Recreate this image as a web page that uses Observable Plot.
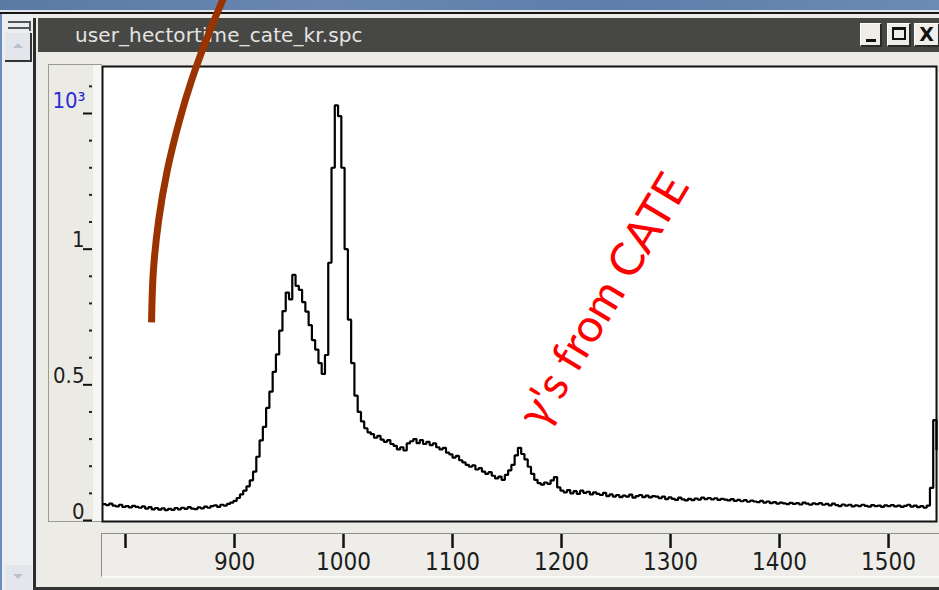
<!DOCTYPE html>
<html>
<head>
<meta charset="utf-8">
<title>user_hectortime_cate_kr.spc</title>
<script src="https://cdn.jsdelivr.net/npm/d3@7"></script>
<script src="https://cdn.jsdelivr.net/npm/@observablehq/plot@0.6"></script>
<style>
  html, body { margin: 0; padding: 0; }
  body {
    width: 939px; height: 590px; overflow: hidden; position: relative;
    background: #ecebe6; font-family: "DejaVu Sans", sans-serif;
  }
  .abs { position: absolute; box-sizing: border-box; }
  #sky { left: 0; top: 0; width: 939px; height: 10px;
    background: linear-gradient(90deg, #5a79a5, #6987b2 35%, #5e7eab 65%, #6b8ab4); }
  #skyline { left: 0; top: 10px; width: 939px; height: 2px; background: #e2e6ec; }
  #edge { left: 0; top: 12px; width: 939px; height: 2px; background: #161616; }
  #strip { left: 0; top: 14px; width: 33px; height: 576px; background: #ebeff2; border-left: 2px solid #6b8cbc; }
  #stripline { left: 33px; top: 18px; width: 3px; height: 572px; background: #2b2b2b; }
  #grip1 { left: 8px; top: 21px; width: 22px; height: 2px; background: #555; }
  #grip2 { left: 8px; top: 27px; width: 22px; height: 2px; background: #555; }
  #grip3 { left: 29px; top: 21px; width: 2px; height: 10px; background: #555; }
  #upbtn { left: 5px; top: 33px; width: 27px; height: 29px; background: #e3e6ea;
    border-right: 2px solid #333; border-bottom: 2px solid #333; }
  #upbtn::after { content: ""; position: absolute; left: 8px; top: 10px;
    border-left: 5px solid transparent; border-right: 5px solid transparent; border-bottom: 5px solid #b7c2cf; }
  #downbtn { left: 5px; top: 565px; width: 27px; height: 25px; background: #e3e6ea; }
  #downbtn::after { content: ""; position: absolute; left: 8px; top: 9px;
    border-left: 5px solid transparent; border-right: 5px solid transparent; border-top: 5px solid #b7c2cf; }
  #titlebar { left: 38px; top: 18px; width: 901px; height: 34px; background: #474745; }
  #title { left: 75px; top: 23px; color: #e4e4e2; font-size: 20px; letter-spacing: 0.1px; white-space: nowrap; }
  .btn { top: 23px; height: 24px; background: #eeede8;
    border-top: 1px solid #fff; border-left: 1px solid #fff;
    border-right: 2px solid #2a2a2a; border-bottom: 2px solid #2a2a2a; }
  #bmin { left: 860px; width: 22px; }
  #bmin::after { content: ""; position: absolute; left: 5px; top: 15px; width: 10px; height: 3px; background: #111; }
  #bmax { left: 887px; width: 24px; }
  #bmax::after { content: ""; position: absolute; left: 4px; top: 3px; width: 14px; height: 13px;
    border: 2px solid #111; border-top-width: 3px; box-sizing: border-box; }
  #bclose { left: 914px; width: 26px; font: bold 19px "DejaVu Sans", sans-serif; color: #111; text-align: center; line-height: 21px; }
  #ypanel { left: 48px; top: 64px; width: 54px; height: 458px; background: #ebeae5;
    border-left: 1px solid #9a9a96; border-top: 1px solid #9a9a96; border-bottom: 1px solid #9a9a96; }
  #ystrip { left: 93px; top: 65px; width: 9px; height: 456px; background: #f6f6f3; }
  #xpanel { left: 101px; top: 533px; width: 838px; height: 45px; background: #eeede9;
    border-top: 1px solid #8d8d8a; border-left: 1px solid #8d8d8a; border-bottom: 2px solid #fbfbfa; }
  #bottomline { left: 33px; top: 587px; width: 906px; height: 3px; background: #333; }
  #chart { left: 0; top: 0; }
</style>
</head>
<body>
<div class="abs" id="sky"></div>
<div class="abs" id="skyline"></div>
<div class="abs" id="edge"></div>
<div class="abs" id="strip"></div>
<div class="abs" id="stripline"></div>
<div class="abs" id="grip1"></div>
<div class="abs" id="grip2"></div>
<div class="abs" id="grip3"></div>
<div class="abs" id="upbtn"></div>
<div class="abs" id="downbtn"></div>
<div class="abs" id="titlebar"></div>
<div class="abs" id="title">user_hectortime_cate_kr.spc</div>
<div class="abs btn" id="bmin"></div>
<div class="abs btn" id="bmax"></div>
<div class="abs btn" id="bclose">X</div>
<div class="abs" id="ypanel"></div>
<div class="abs" id="ystrip"></div>
<div class="abs" id="xpanel"></div>
<div class="abs" id="bottomline"></div>
<div class="abs" id="chart"></div>
<script>
// Energy spectrum: counts (×10³) per 3-unit bin, first bin starting at 779.
const binStart = 779;
const binWidth = 3;
const counts = [
  0.060,0.057,0.062,0.055,0.052,0.058,0.050,0.053,0.048,0.054,
  0.050,0.047,0.052,0.044,0.049,0.041,0.046,0.040,0.045,0.038,
  0.043,0.039,0.046,0.041,0.047,0.043,0.049,0.044,0.042,0.048,
  0.045,0.051,0.047,0.053,0.056,0.050,0.058,0.055,0.061,0.066,
  0.072,0.083,0.096,0.110,0.126,0.148,0.180,0.235,0.295,0.345,
  0.415,0.475,0.548,0.612,0.700,0.772,0.840,0.815,0.905,0.865,
  0.850,0.805,0.770,0.720,0.665,0.630,0.580,0.540,0.610,0.950,
  1.300,1.530,1.490,1.300,1.000,0.740,0.580,0.460,0.400,0.365,
  0.340,0.325,0.318,0.305,0.312,0.298,0.290,0.296,0.282,0.275,
  0.262,0.270,0.258,0.284,0.292,0.300,0.285,0.296,0.282,0.290,
  0.278,0.284,0.270,0.262,0.268,0.250,0.244,0.232,0.238,0.222,
  0.214,0.205,0.198,0.203,0.188,0.193,0.180,0.172,0.178,0.165,
  0.155,0.162,0.150,0.168,0.185,0.205,0.240,0.268,0.245,0.225,
  0.198,0.172,0.150,0.138,0.132,0.140,0.135,0.148,0.160,0.122,
  0.110,0.104,0.112,0.100,0.108,0.098,0.110,0.102,0.106,0.096,
  0.104,0.098,0.094,0.102,0.090,0.096,0.088,0.094,0.086,0.092,
  0.088,0.095,0.084,0.090,0.094,0.086,0.092,0.085,0.090,0.088,
  0.082,0.088,0.079,0.085,0.080,0.076,0.084,0.078,0.074,0.080,
  0.075,0.081,0.077,0.084,0.079,0.083,0.078,0.082,0.076,0.080,
  0.077,0.074,0.079,0.072,0.076,0.071,0.075,0.069,0.073,0.070,
  0.068,0.072,0.066,0.070,0.064,0.068,0.062,0.066,0.063,0.060,
  0.065,0.061,0.064,0.059,0.066,0.062,0.058,0.063,0.060,0.064,
  0.058,0.061,0.056,0.062,0.057,0.053,0.059,0.055,0.058,0.052,
  0.056,0.053,0.058,0.054,0.051,0.057,0.053,0.055,0.050,0.056,
  0.053,0.057,0.052,0.055,0.050,0.054,0.058,0.051,0.055,0.049,
  0.053,0.047,0.055,0.120,0.370,0.260
];

// Axis ticks and labels
const xTicks = [800, 900, 1000, 1100, 1200, 1300, 1400, 1500];
const xTickLabels = ["", "900", "1000", "1100", "1200", "1300", "1400", "1500"];
const yMajorTicks = [0, 0.5, 1];
const yMajorLabels = ["0", "0.5", "1"];
const yScaleTicks = [1.5];
const yScaleLabels = ["10³"];
const yMinorTicks = [0.1, 0.2, 0.3, 0.4, 0.6, 0.7, 0.8, 0.9, 1.1, 1.2, 1.3, 1.4, 1.6];

// Red note and the brown pointer stroke, in energy / count units
const noteLabels = ["γ's from CATE"];
const noteEnergy = [1239];
const noteCounts = [0.81];
const arrowEnergy = [892.3, 888.9, 873.9, 860.6, 849.5, 838.3, 830.4, 825.6, 823.9];
const arrowCounts = [1.946, 1.916, 1.769, 1.622, 1.474, 1.290, 1.106, 0.921, 0.730];

const spectrum = counts.map((c, i) => ({energy: binStart + i * binWidth, counts: c}));
const notes = noteLabels.map((t, i) => ({text: t, energy: noteEnergy[i], counts: noteCounts[i]}));
const arrow = arrowEnergy.map((e, i) => ({energy: e, counts: arrowCounts[i]}));
const xLabel = new Map(xTicks.map((t, i) => [t, xTickLabels[i]]));
const yLabel = new Map(yMajorTicks.map((t, i) => [t, yMajorLabels[i]]));
const yScaleLabel = new Map(yScaleTicks.map((t, i) => [t, yScaleLabels[i]]));

const tickFont = "'DejaVu Sans Condensed', 'DejaVu Sans', sans-serif";

const chart = Plot.plot({
  width: 939,
  height: 590,
  marginLeft: 102,
  marginRight: 3,
  marginTop: 66,
  marginBottom: 69,
  x: {domain: [778.9, 1544], label: null},
  y: {domain: [-0.0037, 1.6732], label: null},
  style: {background: "transparent", overflow: "visible"},
  marks: [
    Plot.frame({fill: "white", stroke: "#111", strokeWidth: 2}),
    // x axis: ticks and numbers sit in the panel below the frame
    Plot.axisX(xTicks, {
      anchor: "bottom", tickSize: 14, tickPadding: 4, dy: 13,
      stroke: "#111", strokeWidth: 2.5, fill: "#1d1d1d",
      fontSize: 24, fontFamily: tickFont, label: null,
      tickFormat: d => xLabel.get(d)
    }),
    // y axis major ticks
    Plot.axisY([...yMajorTicks, ...yScaleTicks], {
      anchor: "left", tickSize: 9, dx: -10, stroke: "#111", strokeWidth: 2,
      fill: null, label: null
    }),
    // y axis minor ticks
    Plot.axisY(yMinorTicks, {
      anchor: "left", tickSize: 3, dx: -10, stroke: "#222", strokeWidth: 2,
      fill: null, label: null
    }),
    // y axis numbers, resting on their ticks
    Plot.axisY(yMajorTicks, {
      anchor: "left", tickSize: 0, tickPadding: 0, dx: -18, dy: -9,
      fill: "#1d1d1d", fontSize: 22, fontFamily: tickFont, label: null,
      tickFormat: d => yLabel.get(d)
    }),
    Plot.axisY(yScaleTicks, {
      anchor: "left", tickSize: 0, tickPadding: 0, dx: -17, dy: -13,
      fill: "#2b2bd8", fontSize: 22, fontFamily: tickFont, label: null,
      tickFormat: d => yScaleLabel.get(d)
    }),
    // the spectrum histogram
    Plot.line(spectrum, {
      x: "energy", y: "counts", curve: "step-after",
      stroke: "#000", strokeWidth: 2.2, strokeLinejoin: "miter", strokeLinecap: "butt"
    }),
    Plot.text(notes, {
      x: "energy", y: "counts", text: "text", rotate: -59,
      fill: "#ff0000", fontSize: 46, fontFamily: "Lato, 'Open Sans', sans-serif",
      textAnchor: "middle", lineAnchor: "middle"
    }),
    Plot.line(arrow, {
      x: "energy", y: "counts", curve: "catmull-rom",
      stroke: "#9a3300", strokeWidth: 7, strokeLinecap: "butt"
    })
  ]
});

document.getElementById("chart").appendChild(chart);
</script>
</body>
</html>
